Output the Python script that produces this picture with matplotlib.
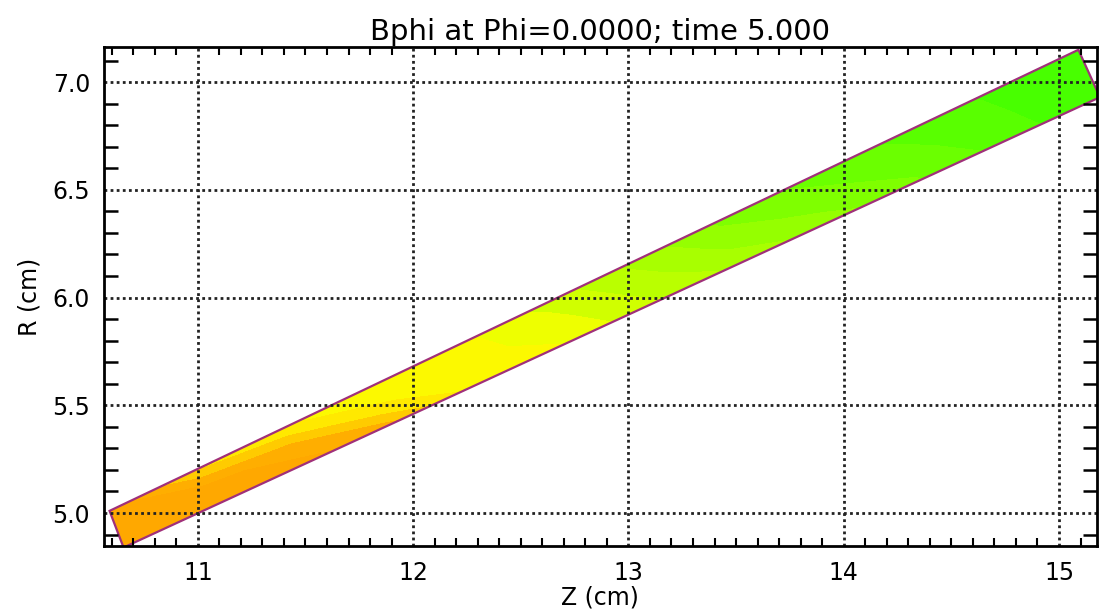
import matplotlib
matplotlib.use("Agg")
import matplotlib.pyplot as plt
from matplotlib.colors import LinearSegmentedColormap
from matplotlib.ticker import MultipleLocator
import numpy as np

# corners of the domain (Z, R): bottom-left, top-left, top-right, bottom-right
corner_z = [10.655, 10.59, 15.09, 15.19]
corner_r = [4.84, 5.01, 7.15, 6.93]

# Bphi values (0 = low/orange, 1 = high/green) sampled along and across the band
along = [0.0, 0.09, 0.18, 0.27, 0.36, 0.45, 0.54, 0.63, 0.72, 0.81, 0.90, 0.97, 1.0]
across = [0.0, 0.5, 1.0]
bphi_bottom = [0.01, 0.02, 0.04, 0.10, 0.29, 0.33, 0.45, 0.55, 0.63, 0.72, 0.82, 0.90, 0.91]
bphi_middle = [0.01, 0.04, 0.10, 0.26, 0.30, 0.37, 0.50, 0.62, 0.70, 0.77, 0.85, 0.91, 0.92]
bphi_top    = [0.02, 0.20, 0.26, 0.30, 0.31, 0.42, 0.55, 0.68, 0.75, 0.81, 0.87, 0.92, 0.93]

cmap = LinearSegmentedColormap.from_list("bphi", [
    (0.0, "#ffa500"), (0.12, "#ffb000"), (0.2, "#ffe000"), (0.28, "#fff700"),
    (0.36, "#f0ff00"), (0.45, "#c8ff00"), (0.6, "#a0ff00"), (0.75, "#70ff00"),
    (0.9, "#48ff00"), (1.0, "#3cff00")])

s, t = np.meshgrid(along, across)
cz = np.array(corner_z)
cr = np.array(corner_r)
Z = (1 - s) * (1 - t) * cz[0] + s * (1 - t) * cz[3] + (1 - s) * t * cz[1] + s * t * cz[2]
R = (1 - s) * (1 - t) * cr[0] + s * (1 - t) * cr[3] + (1 - s) * t * cr[1] + s * t * cr[2]
V = np.array([bphi_bottom, bphi_middle, bphi_top])

fig = plt.figure(figsize=(11, 6.15), dpi=100)
ax = fig.add_axes([0.0945, 0.1122, 0.9025, 0.8114])

ax.contourf(Z, R, V, levels=np.linspace(0, 1, 16), cmap=cmap, vmin=0, vmax=1, zorder=1)
ax.fill(corner_z, corner_r, fill=False, edgecolor="#a0307a", lw=1.6, zorder=2)

ax.set_xlim(10.564, 15.175)
ax.set_ylim(4.847, 7.163)

ax.xaxis.set_major_locator(MultipleLocator(1))
ax.xaxis.set_minor_locator(MultipleLocator(0.1))
ax.yaxis.set_major_locator(MultipleLocator(0.5))
ax.yaxis.set_minor_locator(MultipleLocator(0.1))
ax.yaxis.set_major_formatter(matplotlib.ticker.FormatStrFormatter("%.1f"))

ax.grid(True, which="major", color="#222222", linestyle=(0, (1, 1.2)), lw=2.0, zorder=3)
ax.set_axisbelow(False)

ax.tick_params(which="both", direction="in", top=True, right=True, labelsize=17, color="black")
ax.tick_params(axis="x", which="minor", length=6, width=1.5)
ax.tick_params(axis="y", which="minor", length=10, width=1.8)
ax.tick_params(axis="both", which="major", length=0, width=0)
ax.tick_params(axis="x", which="major", pad=11)
ax.tick_params(axis="y", which="major", pad=10)
for sp in ax.spines.values():
    sp.set_linewidth(2)
    sp.set_zorder(5)

ax.set_xlabel("Z (cm)", fontsize=17, labelpad=0)
ax.set_ylabel("R (cm)", fontsize=17, labelpad=8)
ax.set_title("Bphi at Phi=0.0000; time 5.000", fontsize=21, pad=5)

fig.savefig("out.png", dpi=100)
